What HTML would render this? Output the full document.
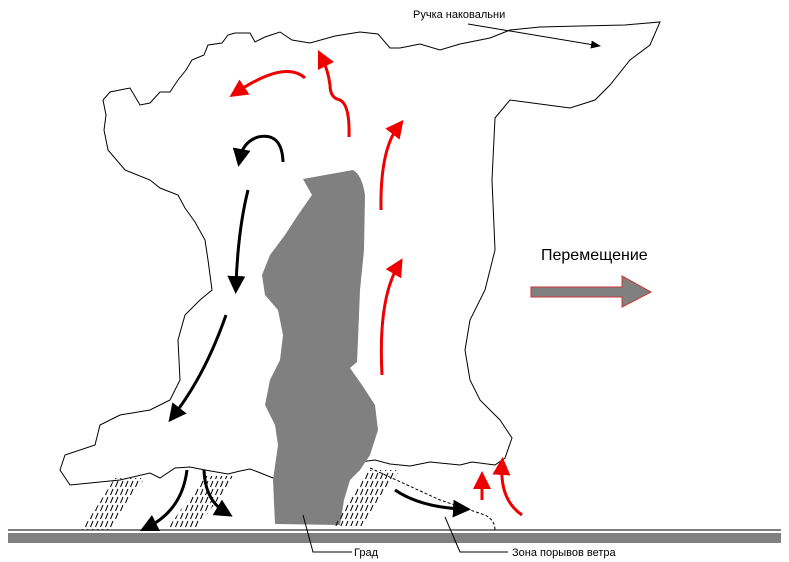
<!DOCTYPE html>
<html><head><meta charset="utf-8"><style>
html,body{margin:0;padding:0;background:#fff;width:789px;height:562px;overflow:hidden}
text{font-family:"Liberation Sans",sans-serif}
</style></head><body>
<svg width="789" height="562" viewBox="0 0 789 562" xmlns="http://www.w3.org/2000/svg">
<defs>
<marker id="ab" markerWidth="6" markerHeight="6" refX="3" refY="3" orient="auto" markerUnits="strokeWidth"><path d="M0,0 L6,3 L0,6 z" fill="#000"/></marker>
<marker id="ar" markerWidth="6" markerHeight="6" refX="3" refY="3" orient="auto" markerUnits="strokeWidth"><path d="M0,0 L6,3 L0,6 z" fill="#e00"/></marker>
<marker id="at" markerWidth="10" markerHeight="8" refX="9" refY="4" orient="auto" markerUnits="userSpaceOnUse"><path d="M0,0 L10,4 L0,8 z" fill="#000"/></marker>
<pattern id="h" width="5" height="8" patternUnits="userSpaceOnUse"><line x1="0.5" y1="7" x2="3" y2="1" stroke="#000" stroke-width="1"/></pattern>
</defs>
<!-- ground -->
<line x1="8" y1="530" x2="781" y2="530" stroke="#000" stroke-width="1"/>
<rect x="8" y="533" width="773" height="10" fill="#808080"/>
<!-- cloud outline -->
<path d="M60,470 L65,455 L95,445 L100,425 L120,415 L150,410 L170,400 L180,380 L178,340 L185,315 L200,300 L212,290 L208,260 L205,240 L195,222 L185,208 L178,195 L160,188 L150,180 L125,170 L108,150 L104,130 L106,115 L103,100 L110,92 L130,88 L140,105 L150,103 L160,92 L170,92 L178,80 L186,70 L192,60 L204,55 L208,45 L222,43 L228,35 L235,33 L250,33 L255,42 L265,37 L280,32 L292,40 L310,43 L335,36 L360,32 L378,34 L390,48 L400,48 L420,44 L440,50 L460,44 L490,38 L510,30 L540,27 L580,26 L625,25 L660,22 L650,45 L630,60 L610,85 L595,100 L570,108 L540,104 L510,100 L495,118 L492,180 L495,250 L485,290 L470,320 L465,350 L470,380 L480,400 L500,420 L512,438 L505,458 L495,465 L472,462 L460,465 L430,462 L410,466 L390,464 L375,460 L360,462 L345,470 L330,475 L300,478 L273,478 L258,472 L250,469 L240,471 L228,474 L205,470 L190,467 L175,468 L160,478 L150,473 L120,480 L70,485 Z" fill="#fff" stroke="#000" stroke-width="1"/>
<!-- hail -->
<path d="M303,179 L353,170 Q362,175 365,195 L364,250 L360,290 L358,340 L357,362 L350,368 L362,385 L375,405 L378,430 L370,455 L360,470 L350,480 L344,500 L340,525 L275,524 L273,480 L278,445 L275,425 L265,405 L270,380 L280,360 L283,335 L278,310 L265,295 L262,275 L270,255 L285,235 L298,215 L312,195 Z" fill="#808080"/>
<!-- hatching -->
<polygon points="115,478 145,478 110,530 82,530" fill="url(#h)"/>
<polygon points="205,476 235,476 197,528 168,528" fill="url(#h)"/>
<polygon points="368,470 400,470 362,526 333,526" fill="url(#h)"/>
<!-- dashed gust zone -->
<path d="M370,468 L440,500 L485,515 Q495,520 495,530" fill="none" stroke="#000" stroke-width="1" stroke-dasharray="3,2"/>
<!-- leader lines -->
<path d="M303,515 L313,552 L352,552" fill="none" stroke="#000" stroke-width="1"/>
<text x="354" y="556" font-size="11">Град</text>
<path d="M445,517 L460,552 L508,552" fill="none" stroke="#000" stroke-width="1"/>
<text x="512" y="556" font-size="11">Зона порывов ветра</text>
<text x="413" y="18" font-size="11">Ручка наковальни</text>
<line x1="468" y1="24" x2="600" y2="46" stroke="#000" stroke-width="1" marker-end="url(#at)"/>
<!-- black arrows -->
<g fill="none" stroke="#000" stroke-width="3">
<path d="M283,162 Q282,132 258,137 Q243,142 240,158" marker-end="url(#ab)"/>
<path d="M248,190 Q238,230 236,285" marker-end="url(#ab)"/>
<path d="M226,315 Q205,375 174,415" marker-end="url(#ab)"/>
<path d="M187,470 Q182,510 148,527" marker-end="url(#ab)"/>
<path d="M204,470 Q205,500 225,512" marker-end="url(#ab)"/>
<path d="M395,490 Q420,507 462,509" marker-end="url(#ab)"/>
</g>
<!-- red arrows -->
<g fill="none" stroke="#e00" stroke-width="3">
<path d="M305,78 Q285,60 237,92" marker-end="url(#ar)"/>
<path d="M349,137 Q350,105 340,100 Q330,98 330,85 Q328,70 322,58" marker-end="url(#ar)"/>
<path d="M381,210 Q380,150 398,127" marker-end="url(#ar)"/>
<path d="M382,375 Q378,300 398,266" marker-end="url(#ar)"/>
<path d="M482,500 L482,480" marker-end="url(#ar)"/>
<path d="M522,515 Q500,500 502,466" marker-end="url(#ar)"/>
</g>
<!-- movement -->
<text x="541" y="260" font-size="16">Перемещение</text>
<path d="M531,287 L622,287 L622,276 L651,292 L622,307 L622,297 L531,297 Z" fill="#808080" stroke="#c33" stroke-width="1"/>
</svg>
</body></html>
